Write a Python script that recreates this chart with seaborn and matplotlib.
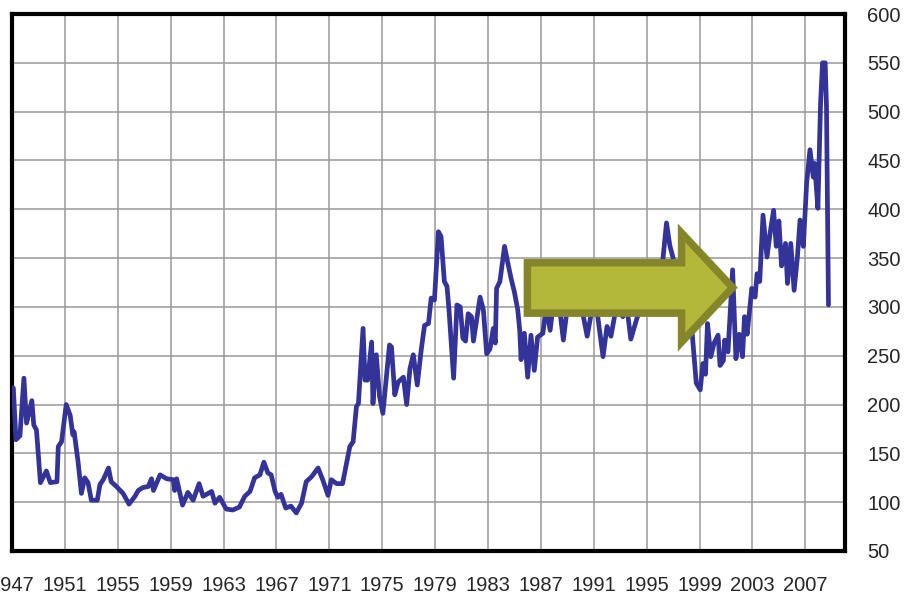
import numpy as np
import pandas as pd
import matplotlib
matplotlib.use('Agg')
import matplotlib.pyplot as plt
import seaborn as sns
from matplotlib.patches import Polygon

# index values (decimal year, level)
years = [
    1947.0, 1947.1, 1947.3, 1947.6, 1947.9, 1948.1, 1948.5, 1948.65, 1948.85, 1949.15,
    1949.6, 1949.9, 1950.4, 1950.5, 1950.75, 1951.1, 1951.4, 1951.6, 1951.7, 1952.0,
    1952.25, 1952.5, 1952.75, 1953.0, 1953.45, 1953.65, 1953.9, 1954.3, 1954.5, 1954.9,
    1955.4, 1955.85, 1956.3, 1956.55, 1956.9, 1957.3, 1957.55, 1957.7, 1958.2, 1958.7,
    1959.2, 1959.3, 1959.45, 1959.9, 1960.3, 1960.7, 1961.15, 1961.45, 1962.1, 1962.35,
    1962.7, 1963.2, 1963.7, 1964.2, 1964.6, 1965.0, 1965.35, 1965.75, 1966.05, 1966.35,
    1966.6, 1966.9, 1967.1, 1967.35, 1967.7, 1968.1, 1968.5, 1968.9, 1969.25, 1969.65,
    1970.15, 1970.5, 1970.9, 1971.15, 1971.55, 1972.0, 1972.3, 1972.55, 1972.8, 1973.05,
    1973.2, 1973.3, 1973.55, 1973.7, 1973.9, 1974.2, 1974.3, 1974.55, 1974.8, 1975.05,
    1975.55, 1975.7, 1975.95, 1976.2, 1976.6, 1976.85, 1977.1, 1977.35, 1977.65, 1977.95,
    1978.2, 1978.5, 1978.7, 1978.95, 1979.25, 1979.45, 1979.7, 1979.9, 1980.05, 1980.4,
    1980.65, 1980.9, 1981.1, 1981.3, 1981.5, 1981.75, 1981.9, 1982.4, 1982.65, 1982.9,
    1983.15, 1983.4, 1983.55, 1983.65, 1983.9, 1984.25, 1984.5, 1984.75, 1985.0, 1985.25,
    1985.4, 1985.5, 1985.75, 1986.0, 1986.25, 1986.5, 1986.75, 1987.15, 1987.4, 1987.7,
    1988.0, 1988.4, 1988.7, 1989.0, 1989.5, 1990.0, 1990.5, 1990.9, 1991.3, 1991.7,
    1992.0, 1992.3, 1992.7, 1993.2, 1993.5, 1993.8, 1994.3, 1994.8, 1995.3, 1995.8,
    1996.2, 1996.5, 1996.75, 1997.0, 1997.4, 1997.8, 1998.2, 1998.4, 1998.75, 1999.05,
    1999.25, 1999.45, 1999.6, 1999.85, 2000.1, 2000.4, 2000.55, 2000.8, 2000.9, 2001.15,
    2001.5, 2001.75, 2002.0, 2002.25, 2002.4, 2002.6, 2002.95, 2003.2, 2003.35, 2003.55,
    2003.8, 2004.1, 2004.35, 2004.6, 2004.8, 2005.0, 2005.2, 2005.5, 2005.65, 2005.9,
    2006.15, 2006.4, 2006.6, 2006.85, 2007.1, 2007.35, 2007.6, 2007.7, 2007.95, 2008.15,
    2008.3, 2008.5, 2008.6, 2008.75,
]
values = [
    215, 217, 164, 168, 227, 181, 204, 179, 174, 120,
    132, 120, 121, 157, 162, 200, 189, 169, 172, 141,
    109, 125, 120, 102, 102, 118, 123, 135, 121, 116,
    109, 98, 106, 112, 115, 116, 124, 112, 128, 124,
    123, 112, 124, 97, 110, 102, 119, 106, 111, 99,
    105, 93, 92, 95, 106, 111, 125, 128, 141, 130,
    128, 111, 105, 108, 94, 96, 89, 99, 121, 126,
    135, 123, 107, 123, 119, 119, 140, 157, 162, 198,
    201, 223, 278, 225, 225, 264, 201, 251, 208, 191,
    261, 259, 210, 223, 228, 200, 237, 251, 220, 256,
    281, 283, 309, 307, 377, 372, 326, 321, 297, 227,
    302, 300, 268, 265, 293, 290, 265, 310, 297, 252,
    257, 278, 263, 319, 326, 362, 345, 329, 315, 297,
    276, 246, 273, 228, 271, 235, 269, 273, 300, 276,
    310, 300, 266, 300, 320, 305, 270, 300, 290, 249,
    280, 270, 300, 290, 300, 267, 290, 300, 310, 330,
    345, 386, 363, 350, 320, 300, 290, 280, 222, 215,
    242, 231, 283, 249, 263, 271, 240, 245, 266, 254,
    338, 247, 272, 249, 290, 272, 319, 310, 334, 326,
    394, 351, 377, 399, 362, 388, 342, 365, 324, 365,
    317, 351, 389, 362, 427, 461, 433, 447, 401, 508,
    550, 550, 505, 302,
]

major_years = list(range(1947, 2008, 4))
minor_years = list(range(1949, 2010, 4))
y_ticks = list(range(50, 601, 50))

df = pd.DataFrame({'year': years, 'value': values})

sns.set_style('white')
plt.rcParams['font.family'] = ['Liberation Sans', 'DejaVu Sans']

fig = plt.figure(figsize=(9.1, 5.95), dpi=100)
ax = fig.add_axes([12 / 910, 1 - 551 / 595, 833 / 910, 537 / 595])

ax.set_xlim(1947, 2010)
ax.set_ylim(50, 600)
ax.set_xticks(major_years)
ax.set_xticks(minor_years, minor=True)
ax.set_yticks(y_ticks)
ax.grid(True, which='major', color='#999999', linewidth=1.1, zorder=0)
ax.set_axisbelow(True)

sns.lineplot(data=df, x='year', y='value', color='#333399', linewidth=3.4,
             estimator=None, sort=False, ax=ax, zorder=3)

# highlight arrow laid over the flat stretch
arrow_pts = [(1985.98, 293.6), (1985.98, 345.2), (1997.64, 345.2), (1997.64, 375.7),
             (2001.5, 319.8), (1997.64, 264.0), (1997.64, 293.6)]
ax.add_patch(Polygon(arrow_pts, closed=True, facecolor='#b3b83a', edgecolor='#85862a',
                     linewidth=5.4, joinstyle='miter', zorder=4))

ax.set_xlabel('')
ax.set_ylabel('')
ax.set_xticklabels([str(y) for y in major_years], fontsize=14.5)
ax.yaxis.tick_right()
ax.set_yticklabels([str(v) for v in y_ticks], fontsize=14.5)
ax.tick_params(axis='y', which='both', length=0, pad=16)
ax.tick_params(axis='x', which='major', length=0, pad=18)
ax.tick_params(axis='x', which='minor', direction='in', length=4, width=1, color='black')

for side in ['left', 'right', 'top', 'bottom']:
    ax.spines[side].set_visible(True)
    ax.spines[side].set_color('black')
    ax.spines[side].set_linewidth(3.0)

fig.savefig('out.png', dpi=100)
